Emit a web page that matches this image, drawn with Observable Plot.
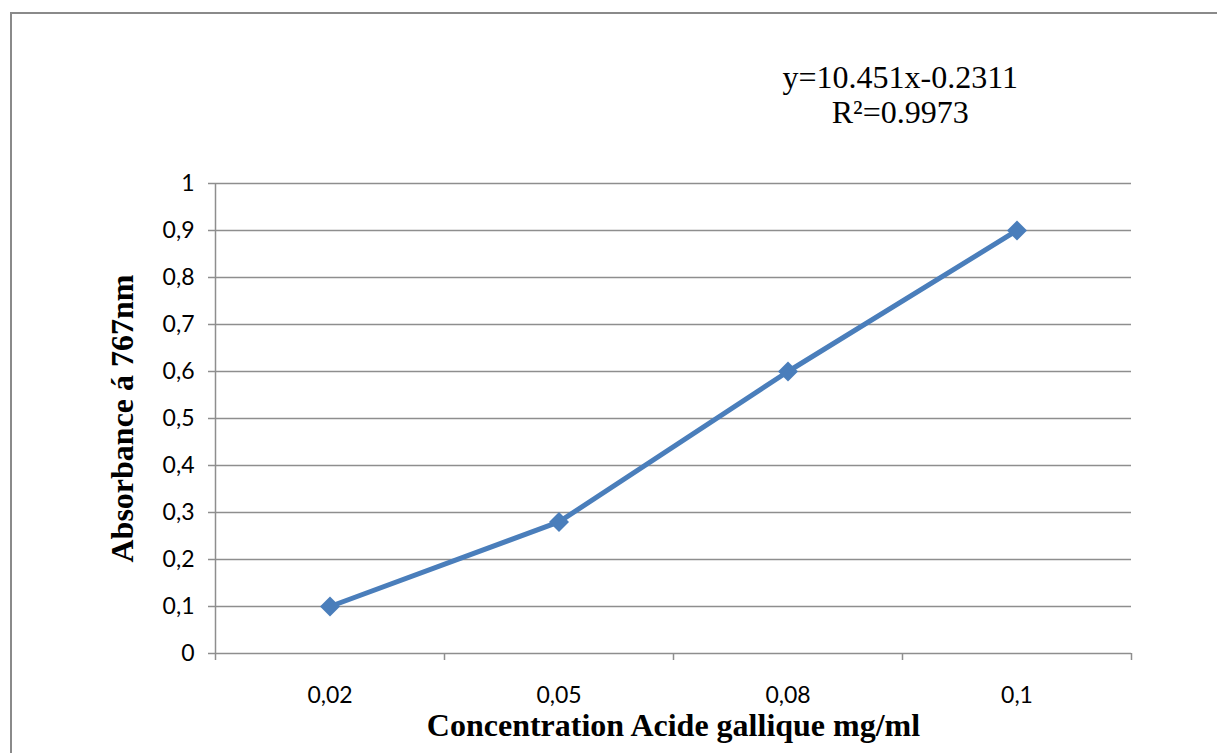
<!DOCTYPE html>
<html>
<head>
<meta charset="utf-8">
<script src="https://cdn.jsdelivr.net/npm/d3@7"></script>
<script src="https://cdn.jsdelivr.net/npm/@observablehq/plot@0.6"></script>
<style>
  html, body { margin: 0; padding: 0; background: #fff; overflow: hidden; }
  #wrap { position: relative; width: 1217px; height: 753px; overflow: hidden; }
  #frame { position: absolute; left: 10px; top: 12px; width: 1400px; height: 1000px; border: 2px solid #8a8a8a; box-sizing: border-box; }
  #chart { position: absolute; left: 0; top: 0; }
</style>
</head>
<body>
<div id="wrap"><div id="frame"></div><div id="chart"></div></div>
<script>
const categories = ["0,02", "0,05", "0,08", "0,1"];
const absorbance = [0.1, 0.28, 0.6, 0.9];
const yTicks = [0, 0.1, 0.2, 0.3, 0.4, 0.5, 0.6, 0.7, 0.8, 0.9, 1];
const equationLines = ["y=10.451x-0.2311", "R²=0.9973"];
const xTitle = "Concentration Acide gallique mg/ml";
const yTitle = "Absorbance á 767nm";

const data = categories.map((c, i) => ({cat: c, pos: i + 0.5, value: absorbance[i]}));
const bandEdges = d3.range(categories.length + 1);
const fmt = d => String(+d.toFixed(1)).replace(".", ",");
const sansFont = "Lato, 'Open Sans', sans-serif";
const serifFont = "'Liberation Serif', 'Times New Roman', serif";
const gridColor = "#8e8e8e";
const blue = "#4a7ebb";

const plot = Plot.plot({
  width: 1217,
  height: 753,
  marginLeft: 215,
  marginRight: 86,
  marginTop: 183,
  marginBottom: 100,
  style: {background: "transparent", overflow: "visible"},
  x: {type: "linear", domain: [0, categories.length]},
  y: {domain: [0, 1]},
  marks: [
    Plot.gridY(yTicks, {stroke: gridColor, strokeOpacity: 1, strokeWidth: 1.5}),
    Plot.axisY({ticks: yTicks, tickFormat: fmt, tickSize: 7, tickPadding: 14, stroke: gridColor, strokeWidth: 1.5,
      fontSize: 23, fontFamily: sansFont, fill: "#000", label: null}),
    Plot.ruleX([0], {y1: 0, y2: 1, stroke: gridColor, strokeWidth: 1.5}),
    Plot.axisX({ticks: bandEdges, tickFormat: () => "", tickSize: 7, stroke: gridColor, strokeWidth: 1.5, label: null}),
    Plot.axisX({ticks: data.map(d => d.pos), tickFormat: (d) => categories[Math.floor(d)], tickSize: 0, tickPadding: 33,
      fontSize: 23, fontFamily: sansFont, fill: "#000", label: null}),
    Plot.line(data, {x: "pos", y: "value", stroke: blue, strokeWidth: 5}),
    Plot.dot(data, {x: "pos", y: "value", symbol: "diamond2", r: 9, fill: blue, stroke: "none"}),
    Plot.text([xTitle], {frameAnchor: "bottom", dy: 82, fontSize: 32, fontWeight: "bold", fontFamily: serifFont, fill: "#000"}),
    Plot.text([yTitle], {frameAnchor: "left", dx: -93, rotate: -90, textAnchor: "middle", fontSize: 32, fontWeight: "bold", fontFamily: serifFont, fill: "#000"}),
    Plot.text(equationLines, {x: 2.99, y: (d, i) => 1 + (0.224 - 0.0745 * i), fontSize: 32, fontFamily: serifFont, fill: "#000", clip: false})
  ]
});
document.getElementById("chart").appendChild(plot);
</script>
</body>
</html>
